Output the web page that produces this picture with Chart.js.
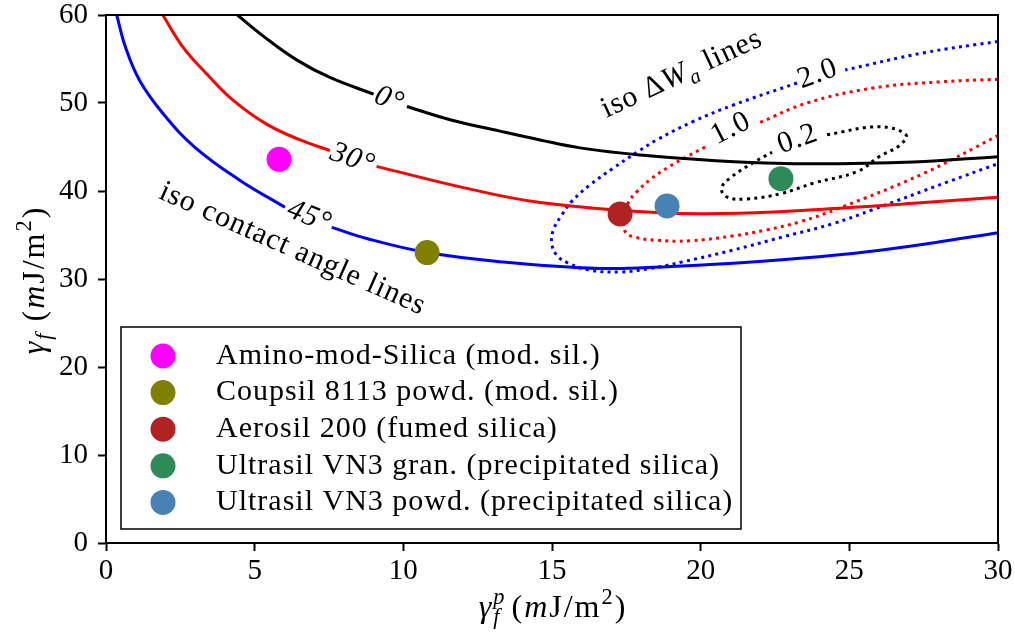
<!DOCTYPE html>
<html>
<head>
<meta charset="utf-8">
<script src="https://cdn.jsdelivr.net/npm/chart.js@4.4.1/dist/chart.umd.min.js"></script>
<style>
html, body { margin: 0; padding: 0; background: #fff; }
#wrap { width: 1015px; height: 639px; }
</style>
</head>
<body>
<div id="wrap"><canvas id="canvas"></canvas></div>
<script>
// Materials (scatter points)
const materials = [
    'Amino-mod-Silica (mod. sil.)',
    'Coupsil 8113 powd. (mod. sil.)',
    'Aerosil 200 (fumed silica)',
    'Ultrasil VN3 gran. (precipitated silica)',
    'Ultrasil VN3 powd. (precipitated silica)'
];
const polarX = [5.82, 10.8, 17.29, 22.7, 18.87];
const totalY = [43.6, 33.0, 37.4, 41.4, 38.3];
const matColors = ['#ff00ff', '#808000', '#b22222', '#2e8b57', '#4682b4'];

// iso contact angle lines (null = gap for the label)
const iso0 = [[4.42, 60], [5.29, 57.6], [6.41, 54.9], [7.53, 52.9], [9.0, 51.0], null,
    [10.12, 49.6], [11.57, 48.1], [13.25, 46.8], [14.6, 45.8], [15.94, 44.9], [17.96, 44.1],
    [21.3, 43.3], [23.8, 43.1], [27.15, 43.3], [30, 43.9]];
const iso30 = [[1.91, 60], [2.6, 56.3], [3.39, 53.3], [4.28, 50.3], [5.4, 47.6], [6.53, 45.8], [7.53, 44.6], null,
    [9.1, 42.8], [12.13, 40.3], [14.6, 38.7], [18.5, 37.55], [21.3, 37.47], [24.9, 38.1],
    [27.15, 38.6], [30, 39.3]];
const iso45 = [[0.36, 60], [0.66, 56.3], [1.14, 52.5], [1.93, 48.75], [2.99, 44.97], [4.51, 41.2], [6.02, 38.15], null,
    [7.59, 35.87], [8.77, 34.6], [10.8, 33.0], [13.25, 31.97], [16.62, 31.2], [18.86, 31.4],
    [21.1, 31.8], [23.34, 32.35], [25.6, 33.1], [27.8, 34.1], [30, 35.26]];

// iso ΔWa lines
const dw20 = [[30, 57.0], [27.5, 55.7], [24.86, 53.75], null, [23.24, 52.27], [21.1, 49.77],
    [19.75, 47.9], [18.52, 45.8], [17.9, 44.5], [17.06, 42.6], [16.28, 40.7], [15.66, 38.8],
    [15.33, 37.27], [15.05, 35.6], [14.99, 34.06], [15.16, 32.7], [15.55, 31.8], [16.28, 31.0],
    [17.29, 30.8], [18.3, 31.2], [19.42, 31.97], [21.1, 33.3], [22.78, 34.8], [24.46, 36.3],
    [25.8, 37.9], [28.28, 41.0], [30, 43.1]];
const dw10 = [[30, 52.7], [28.05, 52.4], [25.8, 51.7], [23.58, 50.0], [22.0, 47.8], null,
    [20.15, 45.0], [19.53, 43.9], [18.91, 42.7], [18.3, 41.3], [17.85, 39.9], [17.57, 38.7],
    [17.42, 37.0], [17.46, 35.4], [17.74, 34.8], [18.52, 34.4], [19.64, 34.35], [21.1, 34.9],
    [22.2, 35.57], [23.34, 36.5], [24.7, 38.1], [27.5, 42.0], [30, 46.3]];
const dw02 = [[24.25, 46.4], [26.0, 47.3], [26.9, 46.4], [26.7, 45.2], [26.0, 43.9], [25.26, 42.2],
    [23.8, 40.9], [22.7, 39.7], [21.56, 39.1], [20.9, 39.3], [20.7, 40.3], [21.0, 41.5],
    [21.76, 43.2], [22.4, 44.4]];

const FONT = '"Liberation Serif", "DejaVu Serif", serif';
const FS = 30;

function toPts(arr) {
    const out = [];
    arr.forEach((p, i) => {
        if (p) out.push({ x: p[0], y: p[1] });
        else out.push({ x: arr[i - 1][0], y: null });
    });
    return out;
}

function curve(arr, color, dotted) {
    return {
        data: toPts(arr),
        showLine: true,
        borderColor: color,
        borderWidth: 3,
        borderDash: dotted ? [3, 4.3] : [],
        pointRadius: 0,
        tension: 0.4,
        spanGaps: false,
        order: 2
    };
}

// Text labels on the chart (data coordinates, angle in degrees)
const annotations = [
    { parts: [{ t: '0°', it: true }], x: 9.55, y: 50.57, angle: 21 },
    { parts: [{ t: '30°', it: true }], x: 8.31, y: 43.86, angle: 20 },
    { parts: [{ t: '45°', it: true }], x: 6.86, y: 37.27, angle: 22 },
    { parts: [{ t: 'iso contact angle lines' }], x: 6.3, y: 33.6, angle: 24 },
    { parts: [{ t: 'iso Δ' }, { t: 'W', it: true }, { t: 'a', it: true, sub: true }, { t: ' lines' }], x: 19.34, y: 53.5, angle: -25 },
    { parts: [{ t: '2.0' }], x: 23.92, y: 53.5, angle: -20 },
    { parts: [{ t: '1.0' }], x: 20.99, y: 47.3, angle: -27 },
    { parts: [{ t: '0.2' }], x: 23.24, y: 46.1, angle: -20 }
];

function fontFor(p, size) {
    const s = (p.sub || p.sup) ? size * 0.7 : size;
    return (p.it ? 'italic ' : '') + s + 'px ' + FONT;
}

function richWidth(ctx, parts, size) {
    let w = 0;
    parts.forEach(p => {
        ctx.font = fontFor(p, size);
        if (!p.stack) w += ctx.measureText(p.t).width;
    });
    return w;
}

function drawRich(ctx, parts, size, cx, cy, angle, spacing) {
    ctx.save();
    ctx.letterSpacing = (spacing || 0) + 'px';
    ctx.translate(cx, cy);
    ctx.rotate(angle * Math.PI / 180);
    ctx.fillStyle = '#000';
    ctx.textBaseline = 'alphabetic';
    ctx.textAlign = 'left';
    let x = -richWidth(ctx, parts, size) / 2;
    parts.forEach(p => {
        ctx.font = fontFor(p, size);
        const dy = p.sub ? size * 0.22 : (p.sup ? -size * 0.4 : 0);
        ctx.fillText(p.t, x, size * 0.33 + dy);
        if (!p.stack) x += ctx.measureText(p.t).width;
    });
    ctx.restore();
}

const decorPlugin = {
    id: 'decor',
    afterDatasetsDraw(chart) {
        const ctx = chart.ctx;
        const a = chart.chartArea;
        const xs = chart.scales.x, ys = chart.scales.y;

        // frame
        ctx.save();
        ctx.strokeStyle = '#000';
        ctx.lineWidth = 2;
        ctx.strokeRect(a.left, a.top, a.right - a.left, a.bottom - a.top);
        ctx.restore();

        // labels
        annotations.forEach(an => {
            drawRich(ctx, an.parts, FS, xs.getPixelForValue(an.x), ys.getPixelForValue(an.y), an.angle, 1);
        });

        // axis titles
        drawRich(ctx, [{ t: 'γ', it: true }, { t: 'f', it: true, sub: true }, { t: ' (' },
            { t: 'm', it: true }, { t: 'J/m' }, { t: '2', sup: true }, { t: ')' }], 32, 33, 280, -90, 2);
        drawRich(ctx, [{ t: 'γ', it: true }, { t: 'p', it: true, sup: true, stack: true },
            { t: 'f', it: true, sub: true }, { t: ' (' }, { t: 'm', it: true }, { t: 'J/m' },
            { t: '2', sup: true }, { t: ')' }], 32, 553, 606, 0, 2);

        // legend
        const lx = 121, ly = 327, lw = 620, lh = 202;
        ctx.save();
        ctx.fillStyle = '#fff';
        ctx.fillRect(lx, ly, lw, lh);
        ctx.strokeStyle = '#000';
        ctx.lineWidth = 1.5;
        ctx.strokeRect(lx, ly, lw, lh);
        ctx.letterSpacing = '1px';
        materials.forEach((m, i) => {
            const cy = 356 + i * 36.6;
            ctx.beginPath();
            ctx.arc(163, cy, 12.5, 0, Math.PI * 2);
            ctx.fillStyle = matColors[i];
            ctx.fill();
            ctx.fillStyle = '#000';
            ctx.font = FS + 'px ' + FONT;
            ctx.textBaseline = 'middle';
            ctx.textAlign = 'left';
            ctx.fillText(m, 216, cy);
        });
        ctx.restore();
    }
};

const datasets = [];
materials.forEach((m, i) => {
    datasets.push({
        label: m,
        data: [{ x: polarX[i], y: totalY[i] }],
        backgroundColor: matColors[i],
        borderWidth: 0,
        pointRadius: 12.5,
        order: 1
    });
});
datasets.push(curve(iso0, '#000000', false));
datasets.push(curve(iso30, '#ff0000', false));
datasets.push(curve(iso45, '#0000ff', false));
datasets.push(curve(dw20, '#0000ff', true));
datasets.push(curve(dw10, '#ff0000', true));
datasets.push(curve(dw02, '#000000', true));

const tickFont = { family: FONT, size: 29, lineHeight: 1 };

function noPad(scale) {
    scale.paddingTop = 0;
    scale.paddingBottom = 0;
    scale.paddingLeft = 0;
    scale.paddingRight = 0;
}

new Chart(document.getElementById('canvas').getContext('2d'), {
    type: 'scatter',
    data: { datasets: datasets },
    options: {
        responsive: true,
        maintainAspectRatio: false,
        animation: false,
        events: [],
        layout: { padding: { top: 15, right: 17, left: 0, bottom: 0 } },
        plugins: {
            legend: { display: false },
            tooltip: { enabled: false }
        },
        scales: {
            x: {
                type: 'linear',
                min: 0, max: 30,
                ticks: { stepSize: 5, color: '#000', font: tickFont, padding: 6, maxRotation: 0 },
                grid: { drawOnChartArea: false, drawTicks: true, tickLength: 8, tickWidth: 2, color: '#000' },
                border: { display: true, color: '#000', width: 2 },
                afterFit(scale) { scale.height = 96; noPad(scale); }
            },
            y: {
                type: 'linear',
                min: 0, max: 60,
                ticks: { stepSize: 10, color: '#000', font: tickFont, padding: 10 },
                grid: { drawOnChartArea: false, drawTicks: true, tickLength: 8, tickWidth: 2, color: '#000' },
                border: { display: true, color: '#000', width: 2 },
                afterFit(scale) { scale.width = 106; noPad(scale); }
            }
        }
    },
    plugins: [decorPlugin]
});
</script>
</body>
</html>
